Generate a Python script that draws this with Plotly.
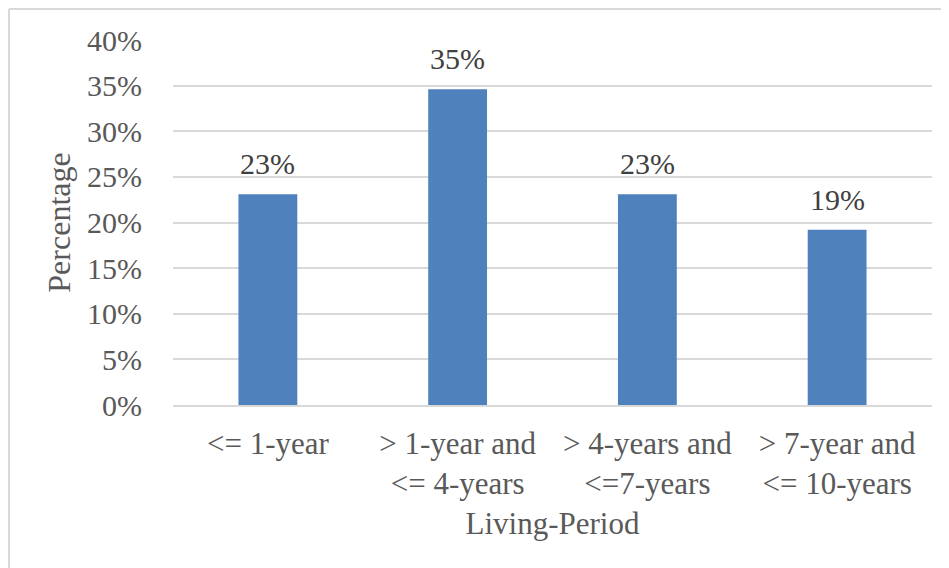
import plotly.graph_objects as go

categories = ["<= 1-year", "> 1-year and<br><= 4-years", "> 4-years and<br><=7-years", "> 7-year and<br><= 10-years"]
percentages = [23.1, 34.6, 23.1, 19.2]
y_ticks = [0, 5, 10, 15, 20, 25, 30, 35, 40]
y_tick_labels = [f"{t}%" for t in y_ticks]

FONT = "Liberation Serif, Times New Roman, serif"
GRAY = "#595959"

W, H = 941, 560
L, R, T, B = 165, 17, 32, 163
PW, PH = W - L - R, H - T - B

fig = go.Figure()
fig.add_trace(go.Bar(
    x=categories,
    y=percentages,
    marker=dict(color="#4F81BD", line=dict(width=0)),
))

for c, v in zip(categories, percentages):
    fig.add_annotation(
        x=c, y=v, text=f"{v:.0f}%", showarrow=False,
        yanchor="bottom", yshift=12,
        font=dict(family=FONT, size=30, color="#404040"),
    )

fig.update_layout(
    width=W, height=H,
    margin=dict(l=L, r=R, t=T, b=B),
    paper_bgcolor="white",
    plot_bgcolor="white",
    bargap=0.69,
    showlegend=False,
    font=dict(family=FONT, size=30, color=GRAY),
    xaxis=dict(
        title=dict(text="Living-Period", font=dict(family=FONT, size=31, color=GRAY), standoff=12),
        tickfont=dict(family=FONT, size=31, color=GRAY),
        showline=True, linecolor="#d9d9d9", linewidth=1.5,
        ticks="", ticklabelstandoff=10,
    ),
    yaxis=dict(
        title=dict(text="Percentage", font=dict(family=FONT, size=32, color=GRAY), standoff=6),
        range=[0, 40],
        tickvals=y_ticks,
        ticktext=y_tick_labels,
        tickfont=dict(family=FONT, size=30, color=GRAY),
        showgrid=True, gridcolor="#d9d9d9", gridwidth=1.5,
        zeroline=False,
        ticks="", ticklabelstandoff=30,
    ),
    shapes=[
        dict(type="line", xref="paper", yref="paper",
             x0=(1 - L) / PW, x1=(W + 20 - L) / PW,
             y0=(H - B - 1) / PH, y1=(H - B - 1) / PH,
             line=dict(color="#d9d9d9", width=2)),
        dict(type="line", xref="paper", yref="paper",
             x0=(1 - L) / PW, x1=(1 - L) / PW,
             y0=(H - B - 1) / PH, y1=-(B + 20) / PH,
             line=dict(color="#d9d9d9", width=2)),
    ],
)

fig.write_html("out.html")
